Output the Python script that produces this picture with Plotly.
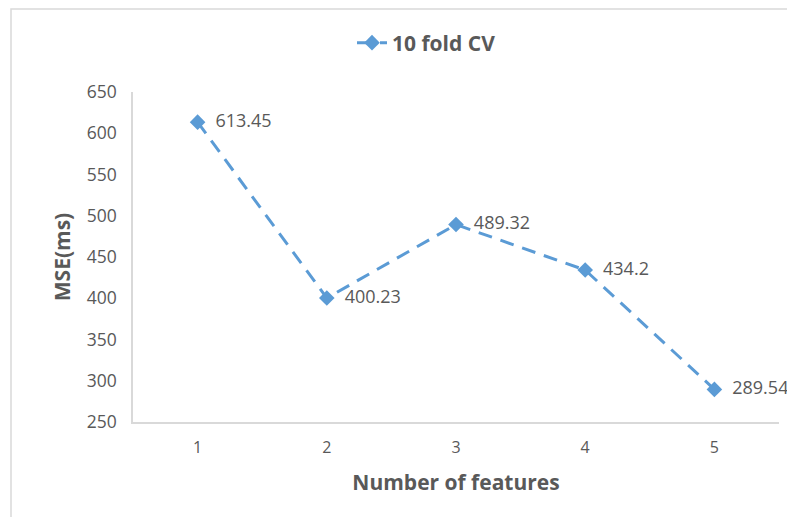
import plotly.graph_objects as go

features = ["1", "2", "3", "4", "5"]
mse = [613.45, 400.23, 489.32, 434.2, 289.54]
labels = ["613.45", "400.23", "489.32", "434.2", "289.54"]
series_name = "<b>10 fold CV</b>"
y_ticks = [250, 300, 350, 400, 450, 500, 550, 600, 650]

BLUE = "#5B9BD5"
GRAY = "#595959"
FONT = "'Open Sans', sans-serif"

OFF = 8  # page body margin
W, H = 795 - 2 * OFF, 525 - 2 * OFF
L, T = 133 - OFF, 92 - OFF
R = W - (779 - OFF)
B = H - (422 - OFF)
pw, ph = W - L - R, H - T - B

def px_x(sx):
    return (sx - OFF - L) / pw

def px_y(sy):
    return (H - B - (sy - OFF)) / ph

fig = go.Figure()
fig.add_trace(go.Scatter(
    x=features, y=mse, name=series_name,
    mode="lines+markers+text",
    line=dict(color=BLUE, width=3, dash="14px,9px"),
    marker=dict(symbol="diamond", size=12, color=BLUE),
    text=["  " + t for t in labels], textposition="middle right",
    textfont=dict(size=18, color=GRAY, family=FONT),
    cliponaxis=False,
))

fig.update_layout(
    width=W, height=H,
    margin=dict(l=L, r=R, t=T, b=B, autoexpand=False),
    plot_bgcolor="white", paper_bgcolor="white",
    font=dict(family=FONT, color=GRAY),
    showlegend=True,
    legend=dict(orientation="h", x=px_x(352), xanchor="left",
                y=px_y(43), yanchor="middle",
                font=dict(size=21, color=GRAY, family=FONT)),
    xaxis=dict(
        type="category", range=[-0.5, 4.5], automargin=False,
        showgrid=False, showline=True, linecolor="#d9d9d9", linewidth=1.5,
        ticks="", tickfont=dict(size=16, color=GRAY), ticklabelstandoff=10,
        title=dict(text="<b>Number of features</b>", font=dict(size=21, color=GRAY), standoff=18),
    ),
    yaxis=dict(
        range=[250, 650], tickvals=y_ticks, automargin=False,
        showgrid=False, showline=True, linecolor="#d9d9d9", linewidth=1.5,
        ticks="", tickfont=dict(size=17.5, color=GRAY), zeroline=False, ticklabelstandoff=11,
        title=dict(text="<b>MSE(ms)</b>", font=dict(size=21, color=GRAY), standoff=10),
    ),
    shapes=[dict(type="rect", xref="paper", yref="paper",
                 x0=px_x(11), x1=px_x(W + 40),
                 y0=px_y(H + 40), y1=px_y(OFF + 1),
                 line=dict(color="#d9d9d9", width=1.5), fillcolor="rgba(0,0,0,0)",
                 layer="below")],
)

fig.write_html("out.html")
